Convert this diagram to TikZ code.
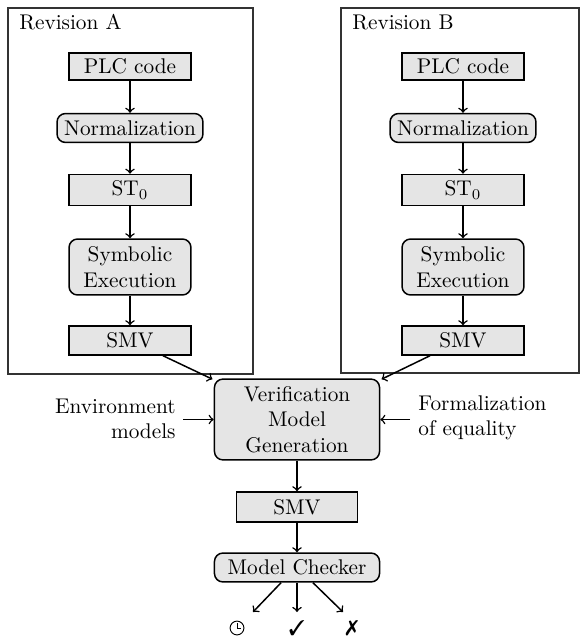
\documentclass[tikz,border=0pt]{standalone}
\usepackage{pifont}
\begin{document}
\begin{tikzpicture}[x=0.47pt,y=-0.47pt,
 box/.style={draw, fill=gray!20, line width=0.7pt, inner sep=0pt, minimum width=57.3pt, align=center},
 rbox/.style={box, rounded corners=4pt},
 frame/.style={draw=black!80, line width=0.55pt, inner sep=0pt},
 arr/.style={->, line width=0.7pt},
 lbl/.style={inner sep=0pt}]
\useasboundingbox (0,0) rectangle (581,637);
% frames
\node[frame, minimum width=115.2pt, minimum height=172pt] (frA) at (130.5,191) {};
\node[frame, minimum width=111.9pt, minimum height=171.6pt] (frB) at (460,190.5) {};
\node[lbl, anchor=base west] (labA) at (19,30) {Revision A};
\node[lbl, anchor=base west] (labB) at (352,30) {Revision B};
% column A
\node[box, minimum height=12.7pt] (plcA) at (130,66.5) {PLC code};
\node[rbox, minimum width=68.6pt, minimum height=13.6pt] (normA) at (130,128) {Normalization};
\node[box, minimum height=14.6pt] (stA) at (130,190) {ST$_0$};
\node[rbox, minimum height=26.3pt] (symA) at (130,267) {Symbolic\\Execution};
\node[box, minimum height=13.6pt] (smvA) at (130,340.5) {SMV};
% column B
\node[box, minimum height=12.7pt] (plcB) at (463,66.5) {PLC code};
\node[rbox, minimum width=68.6pt, minimum height=13.6pt] (normB) at (463,128) {Normalization};
\node[box, minimum height=14.6pt] (stB) at (463,190) {ST$_0$};
\node[rbox, minimum height=26.3pt] (symB) at (463,267) {Symbolic\\Execution};
\node[box, minimum height=13.6pt] (smvB) at (463,340.5) {SMV};
% lower part
\node[rbox, minimum width=77.6pt, minimum height=38pt] (vmg) at (297,419.5) {Verification\\Model\\Generation};
\node[box, minimum width=57pt, minimum height=14.1pt] (smvL) at (297,507) {SMV};
\node[rbox, minimum width=77.6pt, minimum height=13.6pt] (mc) at (297,567.5) {Model Checker};
\node[lbl, anchor=east, align=right] (env) at (176,419) {Environment\\models};
\node[lbl, anchor=west, align=left] (form) at (418,418) {Formalization\\of equality};
% results
\node[circle, draw, line width=0.45pt, inner sep=0pt, minimum size=6.5pt,
  path picture={\draw[line width=0.45pt] (path picture bounding box.center) -- ++(0,2.3pt);
                \draw[line width=0.45pt] (path picture bounding box.center) -- ++(1.8pt,0);}] (clk) at (237,628) {};
\node[lbl] (ok) at (297,628) {\ding{51}};
\node[lbl] (ko) at (352,628) {\ding{55}};
\coordinate (eL) at (253,612);
\coordinate (eM) at (297,612);
\coordinate (eR) at (343,612);
\coordinate (envR) at (183,419.5);
\coordinate (formL) at (410,419.5);
% arrows
\foreach \c in {A,B} {
  \draw[arr] (plc\c) -- (norm\c);
  \draw[arr] (norm\c) -- (st\c);
  \draw[arr] (st\c) -- (sym\c);
  \draw[arr] (sym\c) -- (smv\c);
}
\draw[arr] ([xshift=15.5pt]smvA.south) -- ([shift={(-0.6pt,-0.4pt)}]vmg.north west);
\draw[arr] ([xshift=-15.5pt]smvB.south) -- ([shift={(0.6pt,-0.4pt)}]vmg.north east);
\draw[arr] (envR) -- (vmg.west);
\draw[arr] (formL) -- (vmg.east);
\draw[arr] (vmg) -- (smvL);
\draw[arr] (smvL) -- (mc);
\draw[arr] ([xshift=-7.5pt]mc.south) -- (eL);
\draw[arr] (mc.south) -- (eM);
\draw[arr] ([xshift=7.5pt]mc.south) -- (eR);
\end{tikzpicture}
\end{document}
